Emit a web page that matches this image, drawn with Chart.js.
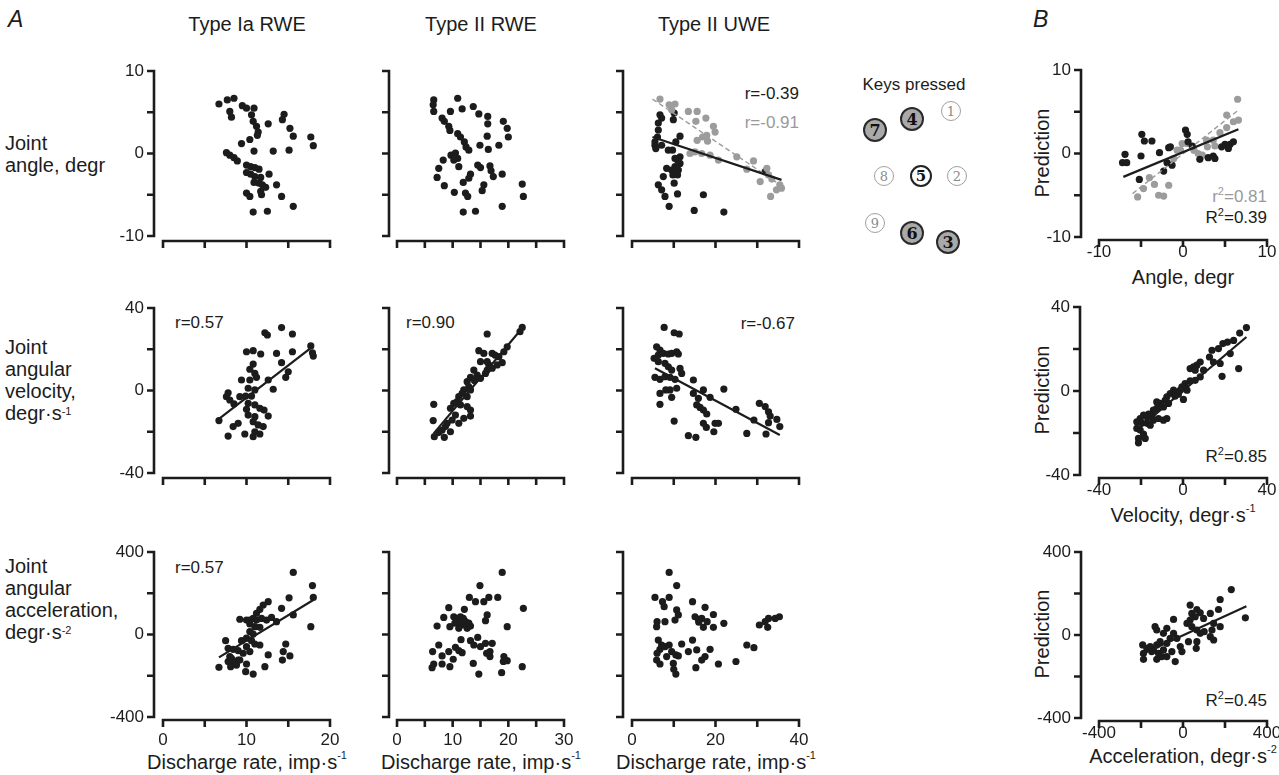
<!DOCTYPE html>
<html>
<head>
<meta charset="utf-8">
<script src="https://cdn.jsdelivr.net/npm/chart.js@4.4.1/dist/chart.umd.min.js"></script>
<style>
  html, body { margin: 0; padding: 0; background: #fff; }
  body { width: 1279px; height: 775px; position: relative; overflow: hidden;
         font-family: "Liberation Sans", Arial, sans-serif; color: #1c1c1c; }
  canvas.panel { position: absolute; left: 0; top: 0; }
  .t { position: absolute; white-space: nowrap; line-height: 1; }
  .big { font-size: 20px; }
  .mid { font-size: 17px; }
  .ctr { transform: translate(-50%, -50%); }
  .rot { transform: translate(-50%, -50%) rotate(-90deg); }
  .row { position: absolute; left: 5px; font-size: 20px; line-height: 22px; white-space: nowrap; }
  .letter { position: absolute; font-size: 23px; font-style: italic; }
  sup { font-size: 11px; position: relative; top: -2px; vertical-align: top; }
  .gray { color: #9a9a9a; }
  .key { position: absolute; border-radius: 50%; box-sizing: border-box; transform: translate(-50%, -50%);
         display: flex; align-items: center; justify-content: center;
         font-family: "DejaVu Serif", "Liberation Serif", serif; }
  .dark { width: 24px; height: 24px; background: #a9a9a9; border: 2px solid #2a2a2a; font-weight: bold; font-size: 16px; color: #111; }
  .plain { width: 22px; height: 22px; background: #fff; border: 2px solid #222; font-weight: bold; font-size: 15px; color: #111; }
  .light { width: 20px; height: 20px; background: #fff; border: 1.5px solid #a0a0a0; font-size: 13px; color: #8a8a8a; }
</style>
</head>
<body>

<div class="letter" style="left:8px; top:6px;">A</div>
<div class="letter" style="left:1033px; top:6px;">B</div>

<div class="t big ctr" style="left:247px; top:24px;">Type Ia RWE</div>
<div class="t big ctr" style="left:481px; top:24px;">Type II RWE</div>
<div class="t big ctr" style="left:714px; top:24px;">Type II UWE</div>

<div class="row" style="top:132px;">Joint<br>angle, degr</div>
<div class="row" style="top:336px;">Joint<br>angular<br>velocity,<br>degr·s<sup>-1</sup></div>
<div class="row" style="top:555px;">Joint<br>angular<br>acceleration,<br>degr·s<sup>-2</sup></div>

<div class="t big ctr" style="left:247px; top:762px;">Discharge rate, imp·s<sup>-1</sup></div>
<div class="t big ctr" style="left:481px; top:762px;">Discharge rate, imp·s<sup>-1</sup></div>
<div class="t big ctr" style="left:716px; top:762px;">Discharge rate, imp·s<sup>-1</sup></div>

<div class="t mid" style="right:480px; top:85px;">r=-0.39</div>
<div class="t mid gray" style="right:480px; top:114px;">r=-0.91</div>
<div class="t mid" style="left:175px; top:314px;">r=0.57</div>
<div class="t mid" style="left:406px; top:314px;">r=0.90</div>
<div class="t mid" style="right:484px; top:315px;">r=-0.67</div>
<div class="t mid" style="left:175px; top:559px;">r=0.57</div>

<div class="t mid ctr" style="left:914px; top:84px;">Keys pressed</div>
<div class="key dark"  style="left:875px; top:130px;">7</div>
<div class="key dark"  style="left:912px; top:119px;">4</div>
<div class="key light" style="left:951px; top:111px;">1</div>
<div class="key light" style="left:884px; top:176px;">8</div>
<div class="key plain" style="left:921px; top:176px;">5</div>
<div class="key light" style="left:957px; top:176px;">2</div>
<div class="key light" style="left:875px; top:223px;">9</div>
<div class="key dark"  style="left:912px; top:233px;">6</div>
<div class="key dark"  style="left:948px; top:242px;">3</div>

<div class="t big rot" style="left:1042px; top:153px;">Prediction</div>
<div class="t big rot" style="left:1042px; top:390px;">Prediction</div>
<div class="t big rot" style="left:1042px; top:634px;">Prediction</div>
<div class="t big ctr" style="left:1183px; top:277px;">Angle, degr</div>
<div class="t big ctr" style="left:1183px; top:515px;">Velocity, degr·s<sup>-1</sup></div>
<div class="t big ctr" style="left:1183px; top:756px;">Acceleration, degr·s<sup>-2</sup></div>
<div class="t mid gray" style="right:12px; top:188px;">r<sup>2</sup>=0.81</div>
<div class="t mid" style="right:12px; top:209px;">R<sup>2</sup>=0.39</div>
<div class="t mid" style="right:12px; top:448px;">R<sup>2</sup>=0.85</div>
<div class="t mid" style="right:12px; top:692px;">R<sup>2</sup>=0.45</div>

<script>
// ---- data ----
// panel A, joint angle (degr) vs discharge rate (imp/s)
const iaAngle = [[6.7,6.0],[7.7,6.5],[8.5,6.7],[8.0,5.1],[8.2,4.4],[9.5,5.8],[10.0,5.5],[10.9,5.5],[10.6,4.7],[10.8,3.9],[11.2,3.3],[11.4,2.6],[11.3,2.2],[12.6,3.6],[10.4,1.7],[9.4,1.2],[14.5,4.75],[14.3,4.1],[15.2,3.05],[15.6,2.1],[17.7,2.0],[18.0,0.95],[10.9,0.3],[13.2,0.3],[15.1,0.4],[7.6,0.1],[8.0,-0.2],[8.5,-0.5],[8.9,-0.9],[10.0,-1.4],[10.5,-1.6],[11.0,-1.7],[11.5,-1.9],[10.0,-2.3],[10.5,-2.5],[11.0,-2.8],[11.7,-2.9],[12.7,-2.5],[10.9,-3.5],[11.5,-3.6],[11.9,-3.8],[12.3,-4.1],[11.7,-4.6],[11.8,-5.0],[13.6,-3.8],[10.0,-4.8],[10.4,-5.2],[14.2,-5.2],[15.6,-6.4],[10.8,-7.1],[12.5,-7.0]];
const iiRweAngle = [[6.6,6.5],[6.5,5.9],[6.6,5.1],[10.9,6.7],[9.6,5.1],[11.7,5.4],[13.7,5.7],[14.7,4.8],[8.1,4.3],[8.5,3.9],[9.3,3.3],[9.5,2.8],[16.3,4.5],[16.3,3.6],[19.1,3.9],[19.8,3.05],[20.0,2.0],[10.9,2.4],[11.4,2.0],[12.1,1.4],[12.4,0.8],[12.9,0.4],[16.2,2.1],[14.9,1.0],[16.4,0.5],[18.3,1.0],[9.7,-0.2],[10.5,0.05],[10.9,-0.6],[10.2,-0.8],[8.3,-0.8],[11.1,-1.6],[7.5,-1.8],[7.2,-2.9],[14.5,-1.4],[15.0,-1.7],[16.7,-1.5],[16.9,-2.1],[17.3,-2.8],[18.9,-2.5],[13.2,-2.5],[12.9,-3.0],[11.9,-3.5],[8.5,-3.9],[10.3,-4.7],[12.3,-4.8],[12.7,-5.2],[15.6,-3.8],[15.3,-4.5],[22.5,-3.7],[22.7,-5.2],[18.9,-6.4],[11.9,-7.1],[14.1,-7.0]];
const iiUweAngleBlack = [[6.7,4.7],[7.1,4.3],[6.3,3.7],[6.3,2.85],[6.1,2.0],[5.5,1.0],[5.7,0.6],[7.1,1.0],[8.7,0.4],[9.7,0.4],[10.1,4.9],[9.9,4.1],[11.5,2.1],[10.5,1.4],[10.9,-0.8],[11.5,-1.2],[10.3,-1.6],[9.5,-2.0],[11.1,-2.0],[9.8,-2.6],[10.9,-2.6],[7.5,-2.8],[10.1,-3.6],[6.3,-3.8],[7.1,-4.4],[7.9,-5.2],[10.9,-4.9],[8.9,-6.4],[14.9,-6.9],[17.1,-5.0],[22.0,-7.1],[11.5,-0.4],[10.3,-0.6],[8.3,-1.8],[5.5,1.4],[31.9,-2.2]];
const iiUweAngleGray = [[6.7,6.6],[8.9,5.9],[10.3,6.0],[9.5,5.3],[13.5,5.1],[15.6,5.1],[15.3,3.9],[17.7,4.3],[19.5,3.3],[19.9,2.6],[17.9,2.2],[16.9,2.0],[15.6,1.6],[18.1,1.5],[15.1,0.2],[16.7,0.0],[18.7,-0.2],[20.7,-0.8],[25.1,-0.4],[29.1,-0.9],[27.5,-1.9],[32.3,-1.8],[30.7,-3.4],[32.7,-2.6],[33.5,-3.1],[35.4,-3.8],[34.6,-4.4],[33.2,-5.2],[35.8,-4.2],[13.9,0.0]];
const iiUweAngleFitBlack = [[4.9,2.0],[35.8,-3.2]];
const iiUweAngleFitGray = [[4.9,6.6],[35.8,-3.9]];

// panel A, joint angular velocity (degr/s)
const iaVel = [[12.2,28.0],[12.5,26.9],[14.2,30.5],[15.5,27.4],[17.7,21.6],[18.0,16.7],[17.9,18.3],[15.5,18.8],[13.6,18.0],[10.0,18.8],[10.8,19.3],[11.7,17.7],[14.2,13.5],[15.0,9.1],[14.7,6.4],[10.8,12.8],[10.4,10.3],[11.0,8.3],[11.2,6.4],[9.4,5.1],[10.4,5.1],[12.6,5.1],[13.2,0.6],[10.2,1.1],[11.0,0.3],[7.8,-1.1],[7.6,-3.0],[8.0,-4.6],[8.5,-6.5],[9.2,-3.0],[9.9,-2.7],[10.6,-2.7],[10.2,-6.2],[11.0,-7.0],[10.0,-9.1],[11.6,-8.6],[12.1,-9.5],[10.2,-11.9],[11.0,-12.7],[12.6,-12.4],[10.8,-15.1],[11.4,-16.7],[12.0,-17.5],[9.0,-15.9],[8.4,-17.5],[11.0,-20.0],[11.6,-21.1],[10.8,-22.4],[7.8,-22.1],[9.8,-21.1],[6.7,-14.6]];
const iaVelFit = [[6.7,-13.8],[17.8,20.9]];
const iiRweVel = [[16.2,27.4],[22.5,30.6],[22.1,28.5],[19.8,21.2],[19.2,18.8],[18.9,13.5],[14.7,19.3],[15.6,18.0],[17.1,18.0],[17.6,17.2],[18.3,16.4],[16.5,12.4],[16.2,9.9],[15.9,8.3],[13.8,9.9],[13.2,6.4],[14.4,7.5],[15.0,5.9],[12.6,4.3],[12.9,1.8],[12.0,0.3],[11.7,-1.4],[13.2,0.3],[12.6,-3.0],[11.1,-3.0],[10.8,-5.4],[10.2,-6.2],[9.6,-8.6],[11.4,-7.0],[12.6,-7.8],[13.2,-9.5],[13.2,-12.4],[12.0,-13.5],[10.5,-11.9],[9.9,-14.3],[11.1,-15.9],[9.0,-15.9],[8.7,-17.5],[8.1,-19.2],[7.5,-20.4],[6.7,-22.4],[8.5,-22.7],[9.6,-20.0],[6.6,-6.7],[6.5,-14.6],[16.2,14.0],[17.1,10.8],[18.0,12.4],[15.0,14.0],[13.9,4.8]];
const iiRweVelFit = [[6.6,-20.8],[22.7,30.9]];
const iiUweVel = [[7.7,30.6],[10.1,28.0],[11.3,27.4],[5.9,21.2],[6.7,19.6],[6.3,17.2],[7.5,18.0],[8.7,17.7],[9.5,18.0],[10.7,18.8],[11.1,17.7],[5.3,15.6],[6.3,14.0],[7.9,13.2],[8.7,11.5],[9.5,9.9],[11.5,10.7],[11.9,8.3],[5.5,6.4],[6.7,5.4],[7.9,6.7],[9.1,6.4],[10.3,5.4],[10.7,1.1],[9.1,0.3],[8.1,0.3],[6.7,-1.4],[9.5,-3.3],[6.7,-6.7],[10.1,-14.8],[14.7,5.1],[14.7,-1.4],[15.9,-3.8],[17.1,0.3],[18.7,-3.3],[15.5,-7.0],[16.3,-8.2],[17.1,-9.5],[17.9,-11.4],[17.1,-15.9],[17.8,-17.9],[19.9,-15.9],[20.7,-15.9],[19.6,-20.0],[13.5,-21.9],[15.3,-22.7],[22.0,0.7],[24.9,-9.1],[27.5,-20.8],[29.2,-14.3],[30.5,-6.2],[31.9,-7.8],[32.7,-10.3],[33.1,-12.4],[34.7,-14.0],[35.4,-17.5],[32.1,-21.1],[32.7,-15.6]];
const iiUweVelFit = [[5.5,10.8],[35.4,-21.6]];

// panel A, joint angular acceleration (degr/s2)
const iaAcc = [[15.6,301],[17.9,237],[18.0,180],[15.1,178],[14.2,127],[15.6,95],[17.7,38],[12.6,159],[12.0,143],[11.6,122],[11.2,103],[10.8,78],[10.4,70],[9.2,74],[10.0,70],[11.2,70],[11.8,78],[12.4,70],[13.0,83],[13.6,62],[10.4,51],[11.0,38],[11.6,35],[10.4,14],[10.8,2],[10.0,-18],[9.4,-30],[10.6,-30],[11.0,-46],[11.6,-51],[7.5,-30],[7.8,-67],[8.4,-72],[9.0,-78],[10.0,-59],[10.4,-83],[9.6,-91],[8.0,-107],[7.8,-131],[8.4,-136],[9.0,-124],[8.8,-148],[10.0,-143],[9.9,-180],[10.8,-192],[12.2,-156],[12.6,-99],[14.7,-46],[14.4,-83],[14.3,-124],[15.2,-104],[6.7,-159],[8.1,-156],[9.2,-124],[8.2,-116]];
const iaAccFit = [[6.7,-111],[18.0,167]];
const iiRweAcc = [[18.9,301],[14.9,237],[13.0,180],[14.1,159],[15.6,159],[16.5,180],[18.1,180],[9.3,130],[12.1,122],[22.7,127],[8.4,83],[10.2,86],[7.2,41],[9.5,38],[10.8,78],[11.4,86],[12.0,70],[12.6,54],[11.7,46],[11.1,30],[12.6,30],[13.2,41],[16.2,95],[15.9,67],[19.8,38],[14.5,-14],[13.2,-30],[13.8,-51],[15.0,-59],[15.9,-43],[17.1,-43],[11.5,-25],[10.5,-62],[11.1,-78],[11.7,-88],[9.3,-83],[7.5,-51],[6.4,-83],[8.1,-104],[10.1,-120],[9.5,-156],[8.1,-143],[6.6,-143],[6.3,-161],[16.1,-91],[16.7,-107],[19.2,-107],[19.8,-127],[19.1,-131],[22.5,-156],[13.7,-140],[14.7,-192],[18.8,-185],[16.7,-83],[11.0,60],[12.3,62],[11.9,78],[12.9,55],[10.4,55]];
const iiUweAcc = [[8.9,301],[10.7,237],[5.5,180],[7.3,159],[8.9,180],[7.7,135],[14.5,159],[17.5,132],[10.7,119],[11.1,95],[10.3,70],[7.9,62],[5.9,38],[15.1,86],[15.9,73],[16.7,78],[19.5,97],[17.1,35],[19.5,35],[22.0,54],[30.5,46],[31.9,62],[32.7,78],[34.3,78],[35.3,86],[32.5,35],[6.3,-27],[7.1,-51],[6.7,-72],[6.0,-91],[5.9,-124],[6.7,-143],[7.9,-59],[8.9,-51],[9.5,-83],[8.3,-107],[10.5,-99],[11.9,-46],[14.5,-27],[13.5,-83],[15.5,-75],[18.7,-72],[17.5,-107],[16.7,-124],[15.3,-161],[20.7,-143],[24.9,-131],[27.5,-51],[29.2,-64],[9.9,-140],[10.0,-169],[10.5,-192],[11.1,-104],[6.0,62],[16.0,60],[18.0,62]];

// panel B, prediction vs actual
const predAngleBlack = [[-6.9,-0.1],[-7.2,-1.1],[-6.7,-1.1],[-4.9,2.3],[-4.6,1.5],[-3.7,1.5],[-5.0,-0.3],[-5.2,-3.1],[-2.8,0.1],[-1.7,0.7],[-1.5,0.8],[-1.9,-1.1],[-1.3,-1.4],[-2.3,-2.1],[0.3,2.8],[0.5,2.3],[0.6,1.4],[1.1,0.9],[2.0,-0.7],[3.0,-0.5],[3.6,-0.3],[3.8,-0.6],[5.6,1.1],[6.0,1.4],[5.0,1.1],[4.6,0.8],[5.4,0.6]];
const predAngleGray = [[-5.4,-5.2],[-4.7,-4.2],[-4.0,-2.9],[-3.4,-3.7],[-2.9,-5.0],[-2.3,-5.1],[-1.7,-3.8],[-1.1,-0.6],[-0.7,0.4],[-0.1,1.2],[0.5,1.2],[1.3,0.4],[1.8,0.0],[2.3,-0.2],[2.9,0.8],[3.6,1.6],[3.8,0.9],[4.4,2.5],[5.2,3.1],[5.2,4.6],[6.0,3.8],[6.5,6.5],[6.6,4.0],[2.8,1.6],[-0.3,0.4]];
const predAngleFitBlack = [[-7.1,-2.8],[6.6,2.9]];
const predAngleFitGray = [[-6.0,-4.8],[6.6,5.2]];
const predVel = [[30.2,30.2],[27.0,27.6],[24.1,24.1],[21.2,23.3],[19.0,22.6],[16.9,20.2],[13.8,19.4],[12.6,16.2],[14.5,13.8],[17.7,13.1],[18.6,7.0],[26.5,10.7],[22.5,17.8],[8.2,13.8],[6.6,12.3],[5.0,11.5],[3.4,10.7],[5.8,9.9],[9.8,9.9],[8.2,6.7],[5.8,5.1],[3.4,4.8],[1.0,3.5],[-0.5,2.0],[-1.3,0.4],[1.9,0.4],[-4.5,0.4],[-6.1,-1.2],[-3.8,-2.5],[-2.2,-1.5],[0.2,-4.0],[-7.7,-2.8],[-8.5,-4.4],[-6.9,-5.9],[-9.3,-7.6],[-10.9,-5.9],[-12.5,-8.3],[-14.1,-9.1],[-12.5,-5.2],[-14.8,-11.5],[-16.4,-11.0],[-17.2,-12.3],[-18.8,-11.5],[-20.4,-13.1],[-22.0,-14.7],[-19.6,-15.2],[-17.2,-15.4],[-14.1,-13.9],[-11.7,-13.1],[-9.3,-13.9],[-7.7,-13.1],[-22.0,-17.8],[-20.4,-18.6],[-18.8,-20.5],[-21.2,-22.6],[-21.2,-24.7],[-18.0,-22.6],[-15.6,-16.3]];
const predVelFit = [[-22.0,-18.6],[30.2,25.7]];
const predAcc = [[230,219],[177,171],[297,83],[169,123],[130,104],[146,56],[177,40],[138,24],[98,80],[82,107],[66,123],[34,144],[42,104],[58,88],[34,72],[19,56],[42,40],[66,24],[82,8],[101,16],[130,-8],[146,-24],[66,-32],[26,-32],[63,-64],[-45,75],[-77,32],[-93,8],[-125,24],[-133,40],[-45,8],[-29,-16],[-61,-16],[-77,-40],[-109,-32],[-125,-48],[-141,-72],[-156,-56],[-172,-64],[-188,-88],[-192,-48],[-188,-117],[-117,-88],[-93,-72],[-77,-104],[-53,-80],[-37,-128],[-13,-56],[-5,-80],[-149,-80],[-101,-104],[-125,-117]];
const predAccFit = [[-204,-96],[302,139]];

// axis ticks and which of them carry a label
const ticksAngle = [-10, -5, 0, 5, 10];
const labelsAngle = [-10, 0, 10];
const ticksVel = [-40, -20, 0, 20, 40];
const labelsVel = [-40, 0, 40];
const ticksAcc = [-400, -200, 0, 200, 400];
const labelsAcc = [-400, 0, 400];
const ticksRateIa = [0, 5, 10, 15, 20];
const labelsRateIa = [0, 10, 20];
const ticksRateRwe = [0, 5, 10, 15, 20, 25, 30];
const labelsRateRwe = [0, 10, 20, 30];
const ticksRateUwe = [0, 10, 20, 30, 40];
const labelsRateUwe = [0, 20, 40];

// ---- drawing ----
const W = 1279, H = 775;
const INK = '#1c1c1c', GREY = '#9c9c9c';

const pts = arr => arr.map(([x, y]) => ({ x, y }));
const dots = (arr, color, order) => ({
  data: pts(arr), backgroundColor: color, borderWidth: 0,
  pointRadius: 3.6, clip: false, order: order || 3
});
const fit = (arr, color, width, dash, order) => ({
  data: pts(arr), showLine: true, borderColor: color, borderWidth: width,
  borderDash: dash || [], pointRadius: 0, clip: false, order: order || 1
});

function makePanel(p) {
  const cv = document.createElement('canvas');
  cv.width = W; cv.height = H; cv.className = 'panel';
  document.body.appendChild(cv);

  // axes are drawn detached from the plot area (Prism style), via the chart's own scales
  const axes = {
    id: 'detachedAxes',
    beforeDatasetsDraw(chart) {
      const c = chart.ctx, xs = chart.scales.x, ys = chart.scales.y;
      c.save();
      c.strokeStyle = INK; c.lineWidth = 2.6;
      c.beginPath();
      const top = ys.getPixelForValue(ys.max), bot = ys.getPixelForValue(ys.min);
      c.moveTo(p.yAxisX, top - 1.3); c.lineTo(p.yAxisX, bot + 1.3);
      p.yTicks.forEach(v => {
        const py = ys.getPixelForValue(v);
        c.moveTo(p.yAxisX + 1.3, py); c.lineTo(p.yAxisX - 7, py);
      });
      const left = xs.getPixelForValue(xs.min), right = xs.getPixelForValue(xs.max);
      c.moveTo(left - 1.3, p.xAxisY); c.lineTo(right + 1.3, p.xAxisY);
      p.xTicks.forEach(v => {
        const px = xs.getPixelForValue(v);
        c.moveTo(px, p.xAxisY - 1.3); c.lineTo(px, p.xAxisY + 7);
      });
      c.stroke();

      c.fillStyle = INK;
      c.font = '17px "Liberation Sans", Arial, sans-serif';
      c.textAlign = 'right'; c.textBaseline = 'middle';
      (p.yLabels || []).forEach(v => c.fillText(String(v), p.yAxisX - 10, ys.getPixelForValue(v)));
      c.textAlign = 'center';
      (p.xLabels || []).forEach(v => c.fillText(String(v), xs.getPixelForValue(v), p.xAxisY + p.xGap));
      c.restore();
    }
  };

  new Chart(cv, {
    type: 'scatter',
    data: { datasets: p.datasets },
    options: {
      responsive: false, animation: false, events: [],
      layout: { padding: { left: p.area[0], top: p.area[1], right: W - p.area[2], bottom: H - p.area[3] } },
      scales: {
        x: { type: 'linear', min: p.xTicks[0], max: p.xTicks[p.xTicks.length - 1], display: false },
        y: { type: 'linear', min: p.yTicks[0], max: p.yTicks[p.yTicks.length - 1], display: false }
      },
      plugins: { legend: { display: false }, tooltip: { enabled: false } }
    },
    plugins: [axes]
  });
}

// column / row geometry of panel A
const colA = [
  { x0: 163, x1: 330, yAxisX: 154, ticks: ticksRateIa, labels: labelsRateIa },
  { x0: 397, x1: 564, yAxisX: 389, ticks: ticksRateRwe, labels: labelsRateRwe },
  { x0: 632, x1: 799, yAxisX: 623, ticks: ticksRateUwe, labels: labelsRateUwe }
];
const rowA = [
  { y0: 71, y1: 236, xAxisY: 241, ticks: ticksAngle, labels: labelsAngle },
  { y0: 308, y1: 473, xAxisY: 478, ticks: ticksVel, labels: labelsVel },
  { y0: 552, y1: 717, xAxisY: 720, ticks: ticksAcc, labels: labelsAcc }
];
const setsA = [
  [[dots(iaAngle, INK)],
   [dots(iiRweAngle, INK)],
   [fit(iiUweAngleFitBlack, INK, 2.2, null, 1), fit(iiUweAngleFitGray, GREY, 1.4, [5, 3], 2),
    dots(iiUweAngleGray, GREY, 3), dots(iiUweAngleBlack, INK, 4)]],
  [[fit(iaVelFit, INK, 2.2), dots(iaVel, INK)],
   [fit(iiRweVelFit, INK, 2.2), dots(iiRweVel, INK)],
   [fit(iiUweVelFit, INK, 2.2), dots(iiUweVel, INK)]],
  [[fit(iaAccFit, INK, 2.2), dots(iaAcc, INK)],
   [dots(iiRweAcc, INK)],
   [dots(iiUweAcc, INK)]]
];
rowA.forEach((r, ri) => colA.forEach((col, ci) => {
  makePanel({
    area: [col.x0, r.y0, col.x1, r.y1],
    yAxisX: col.yAxisX, xAxisY: r.xAxisY, xGap: 20,
    xTicks: col.ticks, yTicks: r.ticks,
    xLabels: ri === 2 ? col.labels : [],
    yLabels: ci === 0 ? r.labels : [],
    datasets: setsA[ri][ci]
  });
}));

// panel B
makePanel({
  area: [1099, 70, 1267, 237], yAxisX: 1081, xAxisY: 240, xGap: 12,
  xTicks: ticksAngle, yTicks: ticksAngle, xLabels: labelsAngle, yLabels: labelsAngle,
  datasets: [fit(predAngleFitBlack, INK, 2.2, null, 1), fit(predAngleFitGray, GREY, 1.4, [5, 3], 2),
             dots(predAngleBlack, INK, 3), dots(predAngleGray, GREY, 4)]
});
makePanel({
  area: [1099, 307, 1267, 475], yAxisX: 1080, xAxisY: 478, xGap: 12,
  xTicks: ticksVel, yTicks: ticksVel, xLabels: labelsVel, yLabels: labelsVel,
  datasets: [fit(predVelFit, INK, 2.2), dots(predVel, INK)]
});
makePanel({
  area: [1099, 552, 1267, 718], yAxisX: 1081, xAxisY: 721, xGap: 12,
  xTicks: ticksAcc, yTicks: ticksAcc, xLabels: labelsAcc, yLabels: labelsAcc,
  datasets: [fit(predAccFit, INK, 2.2), dots(predAcc, INK)]
});
</script>
</body>
</html>
